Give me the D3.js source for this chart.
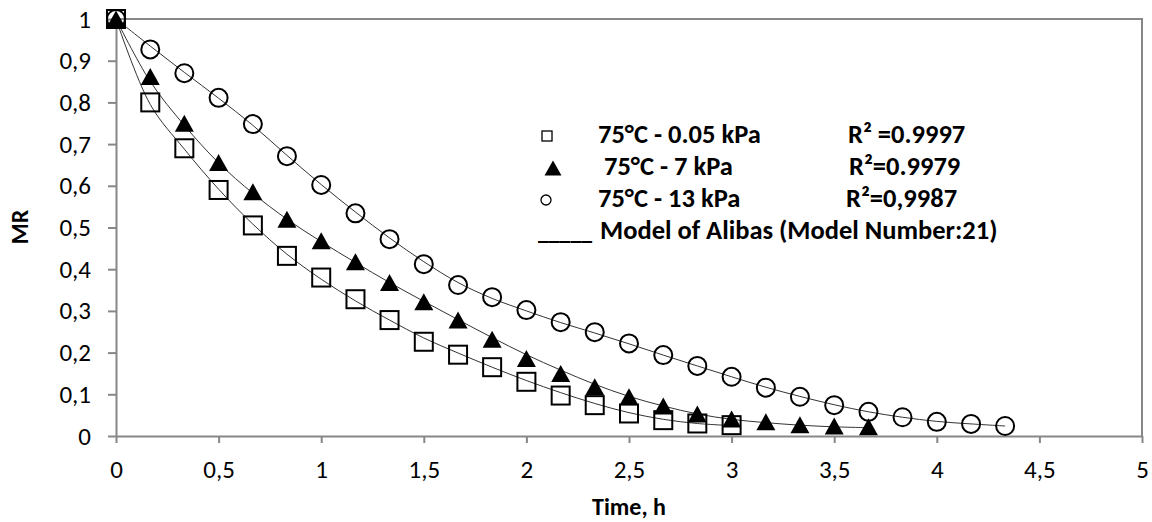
<!DOCTYPE html>
<html>
<head>
<meta charset="utf-8">
<script src="https://cdn.jsdelivr.net/npm/d3@7"></script>
<style>
  body { margin: 0; background: #fff; }
  svg { display: block; font-family: Carlito, Lato, sans-serif; }
  .legend text { font-size: 26.5px; font-weight: bold; fill: #000; }
  .title { font-size: 24px; font-weight: bold; fill: #000; }
</style>
</head>
<body>
<div class="main"></div>
<script>
const svgWidth = 1152,
    svgHeight = 522,
    margin = {top: 19, right: 10, bottom: 86, left: 116},
    width = 1142 - margin.left,
    height = 436 - margin.top;

// drying time, h
const times = [0, 0.167, 0.333, 0.5, 0.667, 0.833, 1, 1.167, 1.333, 1.5, 1.667, 1.833, 2,
  2.167, 2.333, 2.5, 2.667, 2.833, 3, 3.167, 3.333, 3.5, 3.667, 3.833, 4, 4.167, 4.333];

// measured MR
const mr005 = [1, 0.800, 0.690, 0.590, 0.505, 0.432, 0.380, 0.328, 0.278, 0.226, 0.195, 0.165,
  0.130, 0.097, 0.074, 0.054, 0.038, 0.030, 0.026];
const mr7 = [1, 0.862, 0.750, 0.656, 0.586, 0.520, 0.468, 0.418, 0.368, 0.322, 0.278, 0.232,
  0.186, 0.150, 0.118, 0.094, 0.072, 0.053, 0.041, 0.034, 0.027, 0.024, 0.022];
const mr13 = [1, 0.927, 0.870, 0.811, 0.748, 0.671, 0.602, 0.534, 0.472, 0.412, 0.362, 0.333,
  0.302, 0.273, 0.249, 0.222, 0.194, 0.168, 0.142, 0.116, 0.094, 0.074, 0.058, 0.045, 0.034,
  0.029, 0.024];

// Alibas model curves
const fit005 = [1, 0.795, 0.688, 0.592, 0.508, 0.436, 0.376, 0.324, 0.278, 0.235, 0.199, 0.165,
  0.133, 0.104, 0.078, 0.056, 0.040, 0.030, 0.025];
const fit7 = [1, 0.850, 0.745, 0.655, 0.582, 0.520, 0.466, 0.416, 0.368, 0.323, 0.279, 0.236,
  0.195, 0.158, 0.124, 0.095, 0.072, 0.053, 0.040, 0.032, 0.026, 0.022, 0.020];
const fit13 = [1, 0.935, 0.872, 0.810, 0.745, 0.673, 0.603, 0.537, 0.475, 0.418, 0.368, 0.330,
  0.300, 0.272, 0.247, 0.221, 0.194, 0.168, 0.142, 0.117, 0.095, 0.075, 0.058, 0.045, 0.035,
  0.029, 0.024];

const xTicks = [0, 0.5, 1, 1.5, 2, 2.5, 3, 3.5, 4, 4.5, 5];
const yTicks = [0, 0.1, 0.2, 0.3, 0.4, 0.5, 0.6, 0.7, 0.8, 0.9, 1];

const legendLabels = ["75\u00B0C - 0.05 kPa", " 75\u00B0C - 7 kPa", "75\u00B0C - 13 kPa"];
const legendR2 = ["R\u00B2 =0.9997", "R\u00B2=0.9979", "R\u00B2=0,9987"];
const modelRule = "_____";
const modelLabel = "Model of Alibas (Model Number:21)";

const comma = d => String(d).replace(".", ",");

let svg = d3.select("body>.main").append("svg")
    .attr("width", svgWidth)
    .attr("height", svgHeight);
let g = svg.append("g")
    .attr("transform", "translate(" + margin.left + "," + margin.top + ")");

let x = d3.scaleLinear().domain([0, 5]).range([0, width]),
    y = d3.scaleLinear().domain([0, 1]).range([height, 0]);

// plot border top & right
g.append("path")
    .attr("d", "M0,0H" + width + "V" + height)
    .attr("fill", "none")
    .attr("stroke", "#878787")
    .attr("stroke-width", 2);

function styleAxis(sel) {
  sel.attr("font-family", "Carlito, Lato, sans-serif").attr("font-size", 25);
  sel.selectAll("path, line").attr("stroke", "#878787").attr("stroke-width", 2);
  sel.selectAll("text").attr("fill", "#000");
}

// axes
g.append("g")
    .attr("class", "x axis")
    .attr("transform", "translate(0," + height + ")")
    .call(d3.axisBottom(x).tickValues(xTicks).tickFormat(comma).tickSize(7).tickSizeOuter(0).tickPadding(17))
    .call(styleAxis);

g.append("g")
    .attr("class", "y axis")
    .call(d3.axisLeft(y).tickValues(yTicks).tickFormat(comma).tickSize(8).tickSizeOuter(0).tickPadding(17))
    .call(styleAxis);

// model lines
const line = d3.line()
    .x((d, i) => x(times[i]))
    .y(d => y(d))
    .curve(d3.curveCatmullRom);

g.append("g").attr("class", "fits")
  .selectAll("path")
  .data([fit005, fit7, fit13])
  .enter().append("path")
    .attr("d", line)
    .attr("fill", "none")
    .attr("stroke", "#333")
    .attr("stroke-width", 1);

function triPath(w, h) {
  return "M0," + (-h / 2) + "L" + (w / 2) + "," + (h / 2) + "L" + (-w / 2) + "," + (h / 2) + "Z";
}

// squares
g.append("g").selectAll("rect")
  .data(mr005)
  .enter().append("rect")
    .attr("x", (d, i) => x(times[i]) - 9)
    .attr("y", d => y(d) - 9)
    .attr("width", 18)
    .attr("height", 18)
    .attr("fill", "none")
    .attr("stroke", "#000")
    .attr("stroke-width", 2);

// circles
g.append("g").selectAll("circle")
  .data(mr13)
  .enter().append("circle")
    .attr("cx", (d, i) => x(times[i]))
    .attr("cy", d => y(d))
    .attr("r", 9)
    .attr("fill", "none")
    .attr("stroke", "#000")
    .attr("stroke-width", 2);

// triangles
g.append("g").selectAll("path")
  .data(mr7)
  .enter().append("path")
    .attr("transform", (d, i) => "translate(" + x(times[i]) + "," + y(d) + ")")
    .attr("d", triPath(19, 17))
    .attr("fill", "#000");

// legend
let legend = svg.append("g").attr("class", "legend");
const rowY = [143, 175, 207, 239];

legend.append("rect")
    .attr("x", 542).attr("y", rowY[0] - 12)
    .attr("width", 10).attr("height", 10)
    .attr("fill", "none").attr("stroke", "#000").attr("stroke-width", 1.3);
legend.append("path")
    .attr("transform", "translate(553," + (rowY[1] - 7) + ")")
    .attr("d", triPath(17, 15))
    .attr("fill", "#000");
legend.append("circle")
    .attr("cx", 546).attr("cy", rowY[2] - 7)
    .attr("r", 5)
    .attr("fill", "none").attr("stroke", "#000").attr("stroke-width", 1.3);

legend.selectAll(".lab")
  .data(legendLabels)
  .enter().append("text")
    .attr("class", "lab")
    .attr("x", 598)
    .attr("y", (d, i) => rowY[i])
    .attr("xml:space", "preserve")
    .text(d => d);

legend.selectAll(".r2")
  .data(legendR2)
  .enter().append("text")
    .attr("class", "r2")
    .attr("x", (d, i) => [848, 849, 846][i])
    .attr("y", (d, i) => rowY[i])
    .attr("xml:space", "preserve")
    .text(d => d);

legend.append("text")
    .attr("x", 538)
    .attr("y", rowY[3])
    .attr("textLength", 54)
    .attr("lengthAdjust", "spacingAndGlyphs")
    .text(modelRule);

legend.append("text")
    .attr("x", 600)
    .attr("y", rowY[3])
    .text(modelLabel);

// axis titles
svg.append("text")
    .attr("class", "title")
    .attr("text-anchor", "middle")
    .attr("transform", "translate(28,227) rotate(-90)")
    .text("MR");

svg.append("text")
    .attr("class", "title")
    .attr("text-anchor", "middle")
    .attr("x", 629)
    .attr("y", 515)
    .text("Time, h");
</script>
</body>
</html>
